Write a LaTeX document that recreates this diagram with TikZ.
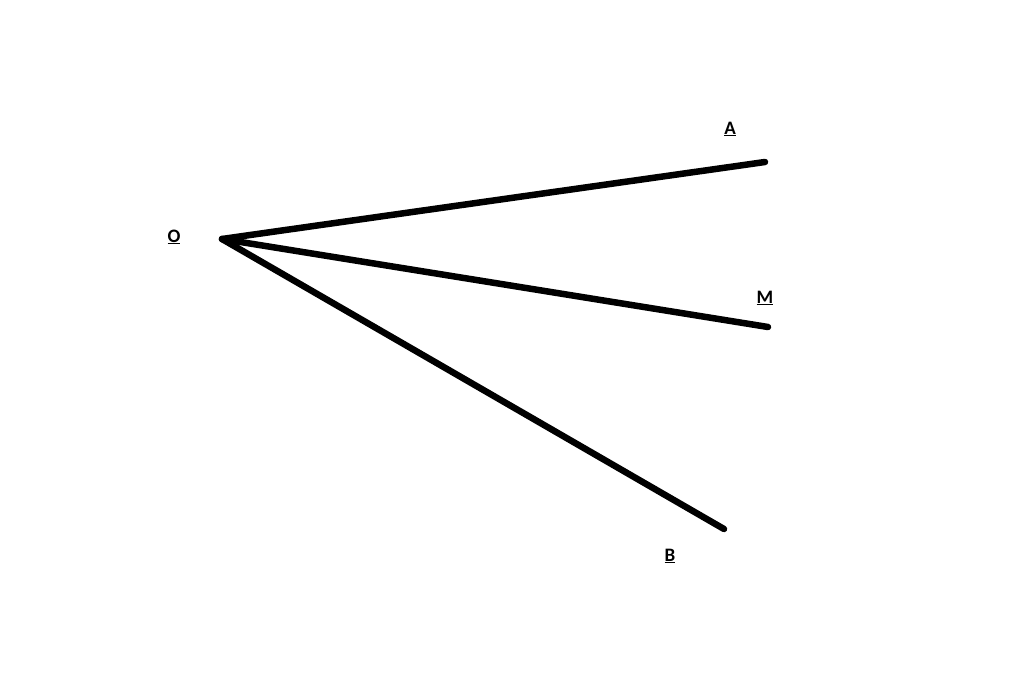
\documentclass[tikz,border=0pt]{standalone}
\usepackage{fontspec}
\setmainfont{Carlito}
\begin{document}
\begin{tikzpicture}[x=1pt,y=-1pt,
  ray/.style={line width=6.5pt,line cap=round},
  lbl/.style={font=\fontsize{19}{21}\selectfont\bfseries,inner sep=0pt,text=black}]
\useasboundingbox[fill=white] (0,0) rectangle (1024,684);
\coordinate (O) at (222,239);
\coordinate (A) at (765,162);
\coordinate (M) at (768,327);
\coordinate (B) at (724,529);
\draw[ray] (O) -- (A);
\draw[ray] (O) -- (M);
\draw[ray] (O) -- (B);
\node[lbl] (lO) at (174,237) {\underline{O}};
\node[lbl] (lA) at (730,129) {\underline{A}};
\node[lbl] (lM) at (765,298) {\underline{M}};
\node[lbl] (lB) at (670,556) {\underline{B}};
\end{tikzpicture}
\end{document}
